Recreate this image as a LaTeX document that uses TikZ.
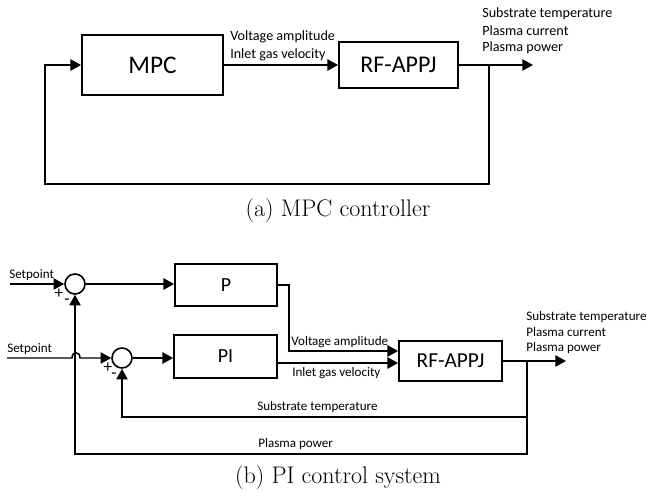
\documentclass[tikz,border=0pt]{standalone}
\usepackage{fontspec}
\newfontfamily\calibri{Carlito}
\usepackage{tikz}
\usetikzlibrary{positioning, arrows.meta, calc}

\begin{document}
\begin{tikzpicture}[x=0.75pt, y=-0.75pt,
    block/.style={draw, line width=1.3pt, inner sep=0pt},
    sum/.style={draw, circle, line width=1.2pt, minimum size=15pt, inner sep=0pt},
    lbl/.style={font=\calibri\fontsize{9.8}{11.6}\selectfont, inner sep=0pt, anchor=west},
    sgn/.style={font=\calibri\fontsize{13}{14}\selectfont, inner sep=0pt},
    arr/.style={line width=1.1pt, -{Triangle[length=8pt, width=8.5pt]}}]
  \useasboundingbox (0,0) rectangle (647,498);

  % (a) MPC loop
  \node[block, minimum width=105.8pt, minimum height=45pt, font=\calibri\fontsize{19}{22}\selectfont] (mpc) at (152.5,65) {MPC};
  \node[block, minimum width=89.3pt, minimum height=34.5pt, font=\calibri\fontsize{18}{21}\selectfont] (rf1) at (398.5,65) {RF-APPJ};
  \node[lbl, font=\calibri\fontsize{10.6}{12}\selectfont] (va1) at (230,37) {Voltage amplitude};
  \node[lbl, font=\calibri\fontsize{10.6}{12}\selectfont] (ig1) at (230,55) {Inlet gas velocity};
  \node[lbl, font=\calibri\fontsize{10.6}{12}\selectfont] (st1) at (482,14) {Substrate temperature};
  \node[lbl, font=\calibri\fontsize{10.6}{12}\selectfont] (pc1) at (482,31) {Plasma current};
  \node[lbl, font=\calibri\fontsize{10.6}{12}\selectfont] (pp1) at (482,48) {Plasma power};
  \coordinate (br1) at (489,65);
  \coordinate (out1) at (533,65);
  \coordinate (fb1) at (45,184);
  \draw[arr] (mpc.east) -- (rf1.west);
  \draw[arr] (rf1.east) -- (out1);
  \draw[arr] (br1) |- (fb1) |- (mpc.west);
  \node[font=\fontsize{18}{20}\selectfont] (capa) at (338,211) {(a) MPC controller};

  % (b) PI loops
  \node[sum] (s1) at (75,284) {};
  \node[sum] (s2) at (122,358) {};
  \node[block, minimum width=76.5pt, minimum height=31.5pt, font=\calibri\fontsize{15}{18}\selectfont] (p) at (226,285) {P};
  \node[block, minimum width=77.3pt, minimum height=32.3pt, font=\calibri\fontsize{15}{18}\selectfont] (pi) at (225.5,356.5) {PI};
  \node[block, minimum width=77.3pt, minimum height=30pt, font=\calibri\fontsize{16}{19}\selectfont] (rf2) at (450.5,361) {RF-APPJ};
  \coordinate (sp1) at (10,284);
  \coordinate (sp2) at (7,358);
  \coordinate (vin) at ($(rf2.west)+(0,-10)$);
  \coordinate (iin) at ($(rf2.west)+(0,2)$);
  \coordinate (br2) at (527,361);
  \coordinate (out2) at (566,361);
  \coordinate (fbt) at (527,417);
  \coordinate (fbp) at (527,454);
  \draw[arr] (sp1) -- (s1);
  \draw[arr] (s1) -- (s1 -| p.west);
  \draw[arr] (sp2) -- ++(65,0) .. controls +(0,-7) and +(0,-7) .. ++(8,0) -- (s2);
  \draw[arr] (s2) -- (s2 -| pi.west);
  \draw[arr] (p.east) -- ++(11,0) |- (vin);
  \draw[arr] (pi.east |- iin) -- (iin);
  \draw[arr] (rf2.east) -- (out2);
  \draw[arr] (br2) -- (fbt) -| (s2.south);
  \draw[arr] (br2) -- (fbp) -| (s1.south);
  \node[sgn] (pl1) at (59,294) {+};
  \node[sgn] (mi1) at (67,302) {-};
  \node[sgn] (pl2) at (108,368) {+};
  \node[sgn] (mi2) at (114,376) {-};
  \node[lbl] (spl1) at (9,275) {Setpoint};
  \node[lbl] (spl2) at (7,349) {Setpoint};
  \node[lbl] (va2) at (291,342) {Voltage amplitude};
  \node[lbl] (ig2) at (292,373) {Inlet gas velocity};
  \node[lbl] (stl) at (257,407) {Substrate temperature};
  \node[lbl] (ppl) at (258,444) {Plasma power};
  \node[lbl] (st2) at (526,317) {Substrate temperature};
  \node[lbl] (pc2) at (526,332) {Plasma current};
  \node[lbl] (pp2) at (526,348) {Plasma power};
  \node[font=\fontsize{18}{20}\selectfont] (capb) at (338,478) {(b) PI control system};
\end{tikzpicture}
\end{document}
